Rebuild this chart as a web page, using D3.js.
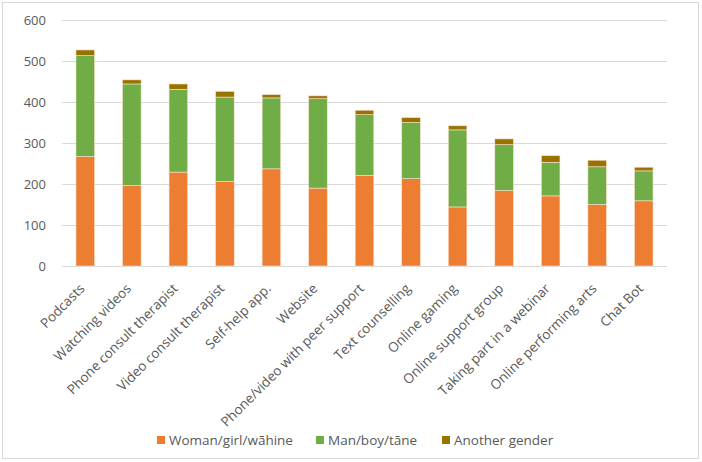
<!DOCTYPE html>
<html>
<head>
<meta charset="utf-8">
<script src="https://cdn.jsdelivr.net/npm/d3@7"></script>
<style>
  body { margin: 0; background: #fff; }
  text { font-family: "Open Sans", sans-serif; fill: #595959; }
</style>
</head>
<body>
<svg id="chart" width="702" height="462"></svg>
<script>
// categories along the x axis
const categories = ["Podcasts", "Watching videos", "Phone consult therapist", "Video consult therapist",
  "Self-help app.", "Website", "Phone/video with peer support", "Text counselling", "Online gaming",
  "Online support group", "Taking part in a webinar", "Online performing arts", "Chat Bot"];

// series values
const woman   = [267, 196, 229, 206, 237, 190, 221, 213, 144, 184, 171, 150, 159];
const man     = [246, 248, 202, 206, 173, 218, 148, 137, 188, 112,  82,  92,  73];
const another = [ 14,  10,  13,  14,   8,   7,  11,  12,  10,  14,  16,  16,   9];

const seriesNames = ["Woman/girl/wāhine", "Man/boy/tāne", "Another gender"];
const seriesColors = ["#ED7D31", "#70AD47", "#997300"];
const yTicks = [0, 100, 200, 300, 400, 500, 600];

const svg = d3.select("#chart");
const margin = {top: 20, right: 35, bottom: 196, left: 62};
const width = 702 - margin.left - margin.right;
const height = 462 - margin.top - margin.bottom;

// outer chart border
svg.append("rect")
  .attr("x", 2.5).attr("y", 2.5)
  .attr("width", 696).attr("height", 456)
  .attr("fill", "none").attr("stroke", "#d9d9d9");

const g = svg.append("g").attr("transform", `translate(${margin.left},${margin.top})`);

const x = d3.scaleBand().domain(categories).range([0, width]).paddingInner(0.6).paddingOuter(0.3);
const y = d3.scaleLinear().domain([0, 600]).range([height, 0]);

// gridlines
g.selectAll(".grid")
  .data(yTicks)
  .join("line")
    .attr("x1", 0).attr("x2", width)
    .attr("y1", d => Math.round(y(d)) + 0.5).attr("y2", d => Math.round(y(d)) + 0.5)
    .attr("stroke", "#d9d9d9").attr("stroke-width", 1);

// y labels
g.selectAll(".ylab")
  .data(yTicks)
  .join("text")
    .attr("x", -16).attr("y", d => y(d))
    .attr("dy", "0.35em")
    .attr("text-anchor", "end")
    .style("font-size", "13px")
    .text(d => d);

// stacked data
const table = categories.map((c, i) => ({cat: c, s0: woman[i], s1: man[i], s2: another[i]}));
const stack = d3.stack().keys(["s0", "s1", "s2"])(table);

g.selectAll(".series")
  .data(stack)
  .join("g")
    .attr("fill", (d, i) => seriesColors[i])
  .selectAll("rect")
  .data(d => d)
  .join("rect")
    .attr("x", d => x(d.data.cat))
    .attr("width", x.bandwidth())
    .attr("y", d => y(d[1]))
    .attr("height", d => y(d[0]) - y(d[1]))
    .attr("stroke", "#fbe3cf")
    .attr("stroke-width", 0.6);

// x labels, rotated
g.selectAll(".xlab")
  .data(categories)
  .join("text")
    .attr("transform", d => `translate(${x(d) + x.bandwidth() / 2 - 3},${height + 20}) rotate(-45)`)
    .attr("text-anchor", "end")
    .attr("dy", "0.35em")
    .style("font-size", "13.5px")
    .text(d => d);

// legend
const legend = svg.append("g").attr("transform", "translate(0,440)");
const legendX = [157, 316, 442];
seriesNames.forEach((name, i) => {
  legend.append("rect")
    .attr("x", legendX[i]).attr("y", -4)
    .attr("width", 8).attr("height", 8)
    .attr("fill", seriesColors[i]);
  legend.append("text")
    .attr("x", legendX[i] + 12).attr("y", 0)
    .attr("dy", "0.35em")
    .style("font-size", "13.5px")
    .text(name);
});
</script>
</body>
</html>
